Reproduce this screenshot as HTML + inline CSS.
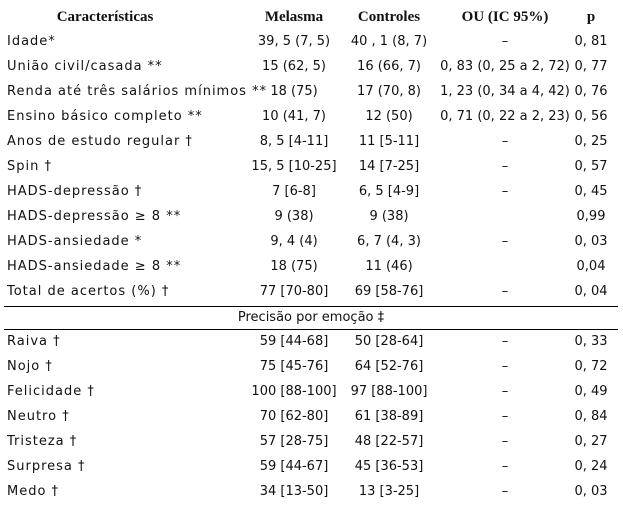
<!DOCTYPE html>
<html><head><meta charset="utf-8"><style>
body{margin:0;background:#fff;width:623px;height:510px;position:relative;overflow:hidden;font-family:"DejaVu Sans","Liberation Sans",sans-serif;font-size:13px;color:#111}
.c{position:absolute;white-space:nowrap;line-height:16px}
.l{letter-spacing:1px}
.h{font-family:"Liberation Serif",serif;font-weight:bold;font-size:15px}
.line{position:absolute;left:4px;width:614px;height:1px;background:#000}
</style></head><body>
<div id="t"></div>
<div class="line" style="top:306px"></div>
<div class="line" style="top:329px"></div>
<script>
const headers=["Características","Melasma","Controles","OU (IC 95%)","p"];
const rows=[
["Idade*","39, 5 (7, 5)","40 , 1 (8, 7)","–","0, 81"],
["União civil/casada **","15 (62, 5)","16 (66, 7)","0, 83 (0, 25 a 2, 72)","0, 77"],
["Renda até três salários mínimos **","18 (75)","17 (70, 8)","1, 23 (0, 34 a 4, 42)","0, 76"],
["Ensino básico completo **","10 (41, 7)","12 (50)","0, 71 (0, 22 a 2, 23)","0, 56"],
["Anos de estudo regular †","8, 5 [4-11]","11 [5-11]","–","0, 25"],
["Spin †","15, 5 [10-25]","14 [7-25]","–","0, 57"],
["HADS-depressão †","7 [6-8]","6, 5 [4-9]","–","0, 45"],
["HADS-depressão ≥ 8 **","9 (38)","9 (38)","","0,99"],
["HADS-ansiedade *","9, 4 (4)","6, 7 (4, 3)","–","0, 03"],
["HADS-ansiedade ≥ 8 **","18 (75)","11 (46)","","0,04"],
["Total de acertos (%) †","77 [70-80]","69 [58-76]","–","0, 04"]];
const rows2=[
["Raiva †","59 [44-68]","50 [28-64]","–","0, 33"],
["Nojo †","75 [45-76]","64 [52-76]","–","0, 72"],
["Felicidade †","100 [88-100]","97 [88-100]","–","0, 49"],
["Neutro †","70 [62-80]","61 [38-89]","–","0, 84"],
["Tristeza †","57 [28-75]","48 [22-57]","–","0, 27"],
["Surpresa †","59 [44-67]","45 [36-53]","–","0, 24"],
["Medo †","34 [13-50]","13 [3-25]","–","0, 03"]];
const centers=[105,294,389,505,591];
const t=document.getElementById('t');
function cell(txt,x,y,cls,left){
 const d=document.createElement('div');
 d.className='c '+(cls||'');
 d.textContent=txt;
 if(left){d.style.left=x+'px';}else{d.style.left=(x-100)+'px';d.style.width='200px';d.style.textAlign='center';}
 d.style.top=(y-8)+'px';
 
 
 t.appendChild(d);
}
headers.forEach((h,i)=>cell(h,centers[i],17,'h'));
rows.forEach((r,ri)=>r.forEach((v,ci)=>cell(v,ci?centers[ci]:7,42+ri*25,ci?'':'l',ci===0)));
cell("Precisão por emoção ‡",311,318,'');
rows2.forEach((r,ri)=>r.forEach((v,ci)=>cell(v,ci?centers[ci]:7,342+ri*25,ci?'':'l',ci===0)));
</script>
</body></html>
